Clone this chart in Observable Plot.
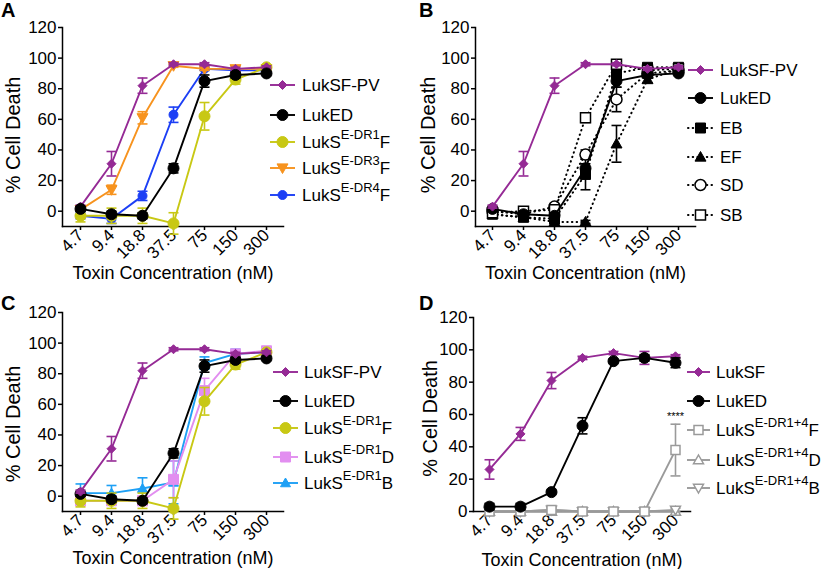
<!DOCTYPE html>
<html><head><meta charset="utf-8">
<script src="https://cdn.jsdelivr.net/npm/d3@7"></script>
<script src="https://cdn.jsdelivr.net/npm/@observablehq/plot@0.6"></script>
<style>
body{margin:0;background:#fff;}
#root{position:relative;width:840px;height:569px;overflow:hidden;font-family:"Liberation Sans",Arial,Helvetica,sans-serif;background:#fff;}
.panel{position:absolute;}
#letters{position:absolute;left:0;top:0;pointer-events:none;}
</style></head><body><div id="root"></div>
<script>
// ---------- data ----------
const conc = ["4.7", "9.4", "18.8", "37.5", "75", "150", "300"];
const yTicks = [0, 20, 40, 60, 80, 100, 120];
const panelLetters = ["A", "B", "C", "D"];
const xTitle = "Toxin Concentration (nM)";
const yTitle = "% Cell Death";

// shared series (panels A, B, C)
const lukSFPV = [3, 31, 82, 96, 96, 93, 94];
const lukSFPVErr = [1, 8, 5, 1, 1, 1, 1];
const lukED = [1.5, -2, -3, 28, 85, 89, 90];
const lukEDErr = [1.5, 2, 2, 3, 4, 2, 1];
const dr1F = [-3, -3, -3, -8, 62, 86, 94];
const dr1FErr = [4, 5, 5, 7, 9, 3, 1];
// panel A
const dr3F = [1, 14, 61, 95, 93, 93, 93];
const dr3FErr = [1, 3, 4, 1, 1, 2, 1];
const dr4F = [-3, -5, 10, 63, 93, 92, 92];
const dr4FErr = [2, 3, 3, 5, 1, 1, 1];
// panel B
const EB = [-2, -4, -5, 24, 90, 94, 94];
const EBErr = [2, 2, 3, 10, 3, 2, 1];
const EF = [-2, -4, -7, -7, 44, 86, 93];
const EFErr = [1, 1, 1, 1, 12, 2, 1];
const SD = [0, -2, 3, 37, 73, 90, 92];
const SDErr = [1, 1, 2, 3, 8, 2, 1];
const SB = [-1, 0, 1, 61, 96, 92, 93];
const SBErr = [1, 1, 1, 3, 1, 1, 1];
// panel C
const dr1D = [-3, -3, -3, 11, 69, 93, 95];
const dr1DErr = [2, 2, 3, 12, 8, 2, 2];
const dr1B = [2, 2, 5, 9, 87, 93, 94];
const dr1BErr = [6, 5, 7, 14, 4, 3, 1];
// panel D
const dLukSF = [26, 48, 81, 95, 98, 95, 96];
const dLukSFErr = [6, 4, 5, 1, 1, 4, 1];
const dLukED = [3, 3, 12, 53, 93, 95, 92];
const dLukEDErr = [2, 2, 1, 5, 1, 2, 3];
const d14F = [0, 0, 1, 0, 0, 0, 38];
const d14FErr = [0, 0, 1, 0, 0, 0, 16];
const d14D = [0, 0, 0, 0, 0, 0, 0];
const d14DErr = [0, 0, 0, 0, 0, 0, 0];
const d14B = [0, 0, 1, 0, 0, 0, 1];
const d14BErr = [0, 0, 0, 0, 0, 0, 1];
const dSignif = ["****"];   // annotation above LukS E-DR1+4 F at 300 nM

// ---------- colours ----------
const cPurple = "#952a95", cBlack = "#000000", cYellow = "#c8c814", cOrange = "#f7931e",
      cBlue = "#1c3ff5", cPink = "#e28ef0", cLBlue = "#1ea0f5", cGray = "#9a9a9a";

// ---------- symbols (r = half size in px) ----------
const R = s => Math.sqrt(s / Math.PI);
const sym = {
  circle: {draw(c, s) {const r = R(s); c.moveTo(r, 0); c.arc(0, 0, r, 0, 2 * Math.PI);}},
  square: {draw(c, s) {const r = R(s); c.rect(-r, -r, 2 * r, 2 * r);}},
  diamond: {draw(c, s) {const r = R(s); c.moveTo(0, -r); c.lineTo(r, 0); c.lineTo(0, r); c.lineTo(-r, 0); c.closePath();}},
  triUp: {draw(c, s) {const r = R(s); c.moveTo(0, -r); c.lineTo(r, r * 0.75); c.lineTo(-r, r * 0.75); c.closePath();}},
  triDown: {draw(c, s) {const r = R(s); c.moveTo(0, r); c.lineTo(r, -r * 0.75); c.lineTo(-r, -r * 0.75); c.closePath();}},
  cap: {draw(c, s) {const r = R(s); c.moveTo(-r, 0); c.lineTo(r, 0);}}
};

function S(label, values, errs, color, symbol, r, opts = {}) {
  return {label, values, errs, color, symbol, r, ...opts};
}

const panels = [
  {
    left: 0, top: 0, height: 285, marginLeft: 62, marginRight: 137, marginTop: 27, marginBottom: 59,
    yDomain: [-10, 120], yLabelDx: -49, yLabelDy: 8, xLabelDy: 47,
    legend: {x1: 270, x2: 295, tx: 302, ys: [85, 115, 142, 168, 195]},
    series: [
      S(["LukSF-PV"], lukSFPV, lukSFPVErr, cPurple, "diamond", 4.5),
      S(["LukED"], lukED, lukEDErr, cBlack, "circle", 5.5),
      S(["LukS", "E-DR1", "F"], dr1F, dr1FErr, cYellow, "circle", 5.5),
      S(["LukS", "E-DR3", "F"], dr3F, dr3FErr, cOrange, "triDown", 5.5),
      S(["LukS", "E-DR4", "F"], dr4F, dr4FErr, cBlue, "circle", 4.5)
    ],
    drawOrder: [4, 3, 2, 0, 1]
  },
  {
    left: 420, top: 0, height: 285, marginLeft: 55, marginRight: 145, marginTop: 27, marginBottom: 59,
    yDomain: [-10, 120], yLabelDx: -47, yLabelDy: 8, xLabelDy: 47,
    legend: {x1: 268, x2: 293, tx: 300, ys: [70, 98, 128, 157, 185, 215]},
    series: [
      S(["LukSF-PV"], lukSFPV, lukSFPVErr, cPurple, "diamond", 4.5),
      S(["LukED"], lukED, lukEDErr, cBlack, "circle", 5.5),
      S(["EB"], EB, EBErr, cBlack, "square", 5, {dash: true}),
      S(["EF"], EF, EFErr, cBlack, "triUp", 5.5, {dash: true}),
      S(["SD"], SD, SDErr, cBlack, "circle", 5.5, {dash: true, open: true}),
      S(["SB"], SB, SBErr, cBlack, "square", 5, {dash: true, open: true})
    ],
    drawOrder: [2, 3, 4, 5, 1, 0]
  },
  {
    left: 0, top: 285, height: 284, marginLeft: 62, marginRight: 137, marginTop: 27, marginBottom: 58,
    yDomain: [-10, 120], yLabelDx: -49, yLabelDy: 12, xLabelDy: 47,
    legend: {x1: 273, x2: 298, tx: 304, ys: [87, 116, 143, 172, 198]},
    series: [
      S(["LukSF-PV"], lukSFPV, lukSFPVErr, cPurple, "diamond", 4.5),
      S(["LukED"], lukED, lukEDErr, cBlack, "circle", 5.5),
      S(["LukS", "E-DR1", "F"], dr1F, dr1FErr, cYellow, "circle", 5.5),
      S(["LukS", "E-DR1", "D"], dr1D, dr1DErr, cPink, "square", 5),
      S(["LukS", "E-DR1", "B"], dr1B, dr1BErr, cLBlue, "triUp", 5)
    ],
    drawOrder: [4, 3, 2, 1, 0]
  },
  {
    left: 420, top: 285, height: 284, marginLeft: 53, marginRight: 150, marginTop: 32, marginBottom: 58,
    yDomain: [0, 120], yLabelDx: -43, yLabelDy: 4, xLabelDy: 49,
    legend: {x1: 267, x2: 290, tx: 296, ys: [87, 116, 145, 175, 203]},
    series: [
      S(["LukSF"], dLukSF, dLukSFErr, cPurple, "diamond", 4.5),
      S(["LukED"], dLukED, dLukEDErr, cBlack, "circle", 5.5),
      S(["LukS", "E-DR1+4", "F"], d14F, d14FErr, cGray, "square", 4.5, {open: true}),
      S(["LukS", "E-DR1+4", "D"], d14D, d14DErr, cGray, "triUp", 5, {open: true}),
      S(["LukS", "E-DR1+4", "B"], d14B, d14BErr, cGray, "triDown", 5, {open: true})
    ],
    drawOrder: [3, 4, 2, 0, 1],
    signif: {series: 2, index: 6, label: dSignif[0]}
  }
];

const root = document.getElementById("root");

function seriesMarks(s) {
  const rows = conc.map((c, i) => ({x: c, v: s.values[i], e: s.errs[i]}));
  const errRows = rows.filter(d => d.e > 0);
  const lineOpts = {x: "x", y: "v", stroke: s.color, strokeWidth: 1.9};
  if (s.dash) Object.assign(lineOpts, {strokeDasharray: "0.5,4.2", strokeLinecap: "round", strokeWidth: 2});
  return [
    Plot.line(rows, lineOpts),
    Plot.ruleX(errRows, {x: "x", y1: d => d.v - d.e, y2: d => d.v + d.e, stroke: s.color, strokeWidth: 1.6}),
    Plot.dot(errRows, {x: "x", y: d => d.v + d.e, symbol: sym.cap, r: 5, stroke: s.color, strokeWidth: 1.6}),
    Plot.dot(errRows, {x: "x", y: d => d.v - d.e, symbol: sym.cap, r: 5, stroke: s.color, strokeWidth: 1.6}),
    Plot.dot(rows, {x: "x", y: "v", symbol: sym[s.symbol], r: s.r,
      fill: s.open ? "white" : s.color, stroke: s.color, strokeWidth: s.open ? 1.5 : 1})
  ];
}

panels.forEach((p, pi) => {
  const marks = [];
  for (const k of p.drawOrder) marks.push(...seriesMarks(p.series[k]));
  if (p.signif) {
    const s = p.series[p.signif.series];
    const i = p.signif.index;
    marks.push(Plot.text([{x: conc[i], y: s.values[i] + s.errs[i], t: p.signif.label}],
      {x: "x", y: "y", text: "t", dy: -8, fontSize: 11, fill: "#000"}));
  }
  const chart = Plot.plot({
    width: 420, height: p.height,
    marginLeft: p.marginLeft, marginRight: p.marginRight, marginTop: p.marginTop, marginBottom: p.marginBottom,
    style: {fontFamily: "Liberation Sans, Arial, sans-serif", fontSize: "16px", color: "#000", background: "white", overflow: "visible"},
    x: {type: "point", domain: conc, padding: 0.5},
    y: {domain: p.yDomain, nice: false},
    marks: [
      Plot.axisY({ticks: yTicks, tickSize: 4, tickPadding: 2, label: null, strokeWidth: 1.5, fontSize: 17}),
      Plot.axisX({tickRotate: -45, tickSize: 4, tickPadding: 2, label: null, strokeWidth: 1.5, fontSize: 17}),
      Plot.frame({anchor: "left", strokeWidth: 1.5}),
      Plot.frame({anchor: "bottom", strokeWidth: 1.5}),
      ...marks,
      Plot.text([yTitle], {frameAnchor: "left", rotate: -90, dx: p.yLabelDx, dy: p.yLabelDy,
        textAnchor: "middle", lineAnchor: "middle", fontSize: 20}),
      Plot.text([xTitle], {frameAnchor: "bottom", dy: p.xLabelDy, textAnchor: "middle", lineAnchor: "middle", fontSize: 18})
    ]
  });
  // legend
  const svg = d3.select(chart);
  const g = svg.append("g").attr("class", "legend").attr("text-anchor", "start");
  p.series.forEach((s, i) => {
    const y = p.legend.ys[i];
    const ln = g.append("line").attr("x1", p.legend.x1).attr("x2", p.legend.x2).attr("y1", y).attr("y2", y)
      .attr("stroke", s.color).attr("stroke-width", s.dash ? 2 : 1.9);
    if (s.dash) ln.attr("stroke-dasharray", "0.5,4.2").attr("stroke-linecap", "round");
    const path = d3.path();
    sym[s.symbol].draw(path, s.r * s.r * Math.PI);
    g.append("path").attr("d", path.toString())
      .attr("transform", `translate(${(p.legend.x1 + p.legend.x2) / 2},${y})`)
      .attr("fill", s.open ? "white" : s.color).attr("stroke", s.color).attr("stroke-width", s.open ? 1.5 : 1);
    const t = g.append("text").attr("x", p.legend.tx).attr("y", y).attr("dy", "0.35em")
      .attr("text-anchor", "start").attr("fill", "#000").style("font-size", "17px");
    t.append("tspan").text(s.label[0]);
    if (s.label.length > 1) {
      t.append("tspan").attr("dy", -9).style("font-size", "13px").text(s.label[1]);
      t.append("tspan").attr("dy", 9).text(s.label[2]);
    }
  });
  const div = document.createElement("div");
  div.className = "panel";
  div.style.left = p.left + "px";
  div.style.top = p.top + "px";
  div.appendChild(chart);
  root.appendChild(div);
});

// panel letters
const letters = d3.select(root).append("svg").attr("id", "letters").attr("width", 840).attr("height", 569);
const letterPos = [[1, 17], [419, 17], [1, 310], [419, 310]];
panelLetters.forEach((L, i) => {
  letters.append("text").attr("x", letterPos[i][0]).attr("y", letterPos[i][1])
    .style("font-family", "Liberation Sans, Arial, sans-serif").style("font-weight", "bold").style("font-size", "20px")
    .text(L);
});
</script></body></html>
